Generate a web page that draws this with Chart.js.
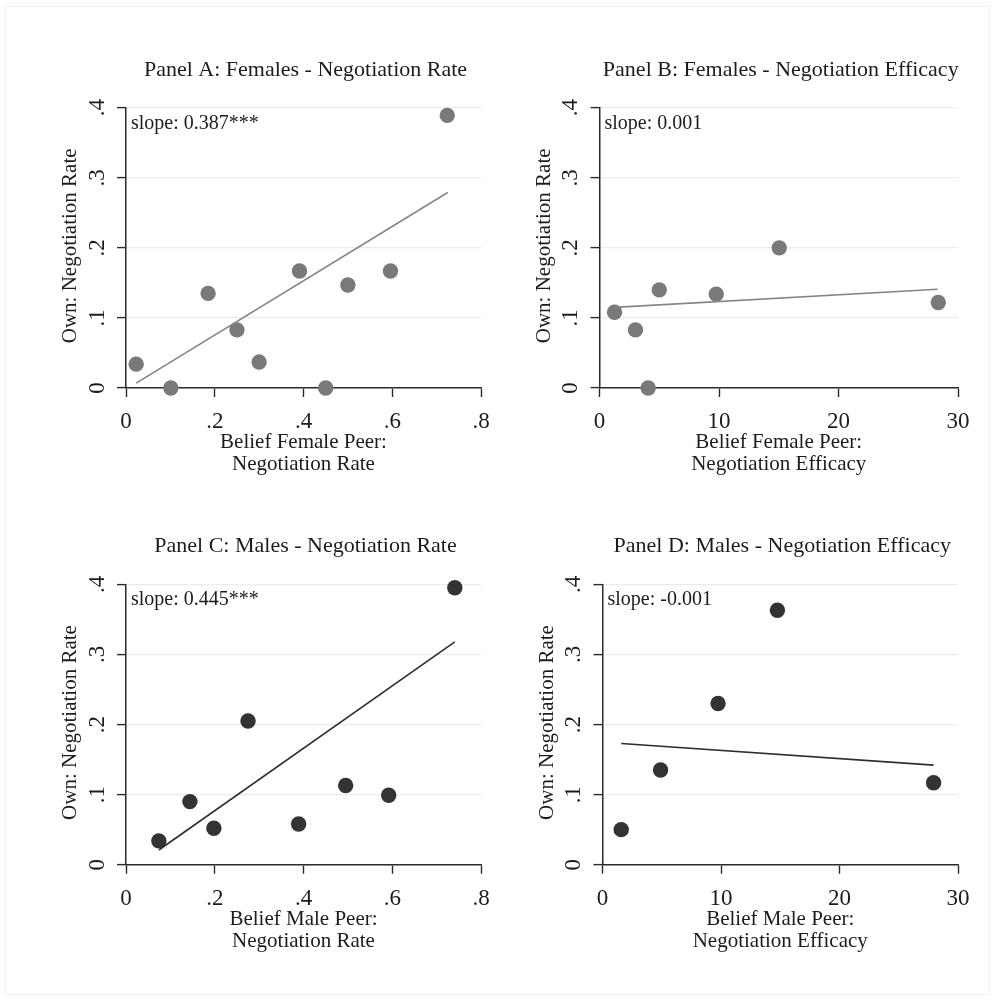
<!DOCTYPE html>
<html>
<head>
<meta charset="utf-8">
<title>Own vs belief negotiation rate</title>
<script src="https://cdn.jsdelivr.net/npm/chart.js@4.4.1/dist/chart.umd.min.js"></script>
<style>
  html, body { margin: 0; padding: 0; background: #fff; }
  #wrap { position: relative; width: 995px; height: 1000px; }
  #wrap canvas { position: absolute; left: 0; top: 0; }
  #frame { position: absolute; left: 5px; top: 6px; width: 983px; height: 987px; border: 1px solid #f1f1f1; }
</style>
</head>
<body>
<div id="wrap">
  <div id="frame"></div>
  <canvas id="panel-a" width="995" height="1000"></canvas>
  <canvas id="panel-b" width="995" height="1000"></canvas>
  <canvas id="panel-c" width="995" height="1000"></canvas>
  <canvas id="panel-d" width="995" height="1000"></canvas>
</div>
<script>
// ---- text ----
const panelTitles = [
    'Panel A: Females - Negotiation Rate',
    'Panel B: Females - Negotiation Efficacy',
    'Panel C: Males - Negotiation Rate',
    'Panel D: Males - Negotiation Efficacy'
];
const xTitles = [
    ['Belief Female Peer:', 'Negotiation Rate'],
    ['Belief Female Peer:', 'Negotiation Efficacy'],
    ['Belief Male Peer:', 'Negotiation Rate'],
    ['Belief Male Peer:', 'Negotiation Efficacy']
];
const yTitle = 'Own: Negotiation Rate';
const slopeLabels = ['slope: 0.387***', 'slope: 0.001', 'slope: 0.445***', 'slope: -0.001'];

// ---- ticks ----
const rateTicks = [0, 0.2, 0.4, 0.6, 0.8];
const rateTickLabels = ['0', '.2', '.4', '.6', '.8'];
const efficacyTicks = [0, 10, 20, 30];
const efficacyTickLabels = ['0', '10', '20', '30'];
const ownTicks = [0, 0.1, 0.2, 0.3, 0.4];
const ownTickLabels = ['0', '.1', '.2', '.3', '.4'];

// ---- Panel A: females, rate ----
const femaleRateX = [0.023, 0.101, 0.185, 0.250, 0.300, 0.391, 0.450, 0.500, 0.596, 0.724];
const femaleRateY = [0.034, 0.000, 0.135, 0.083, 0.037, 0.167, 0.000, 0.147, 0.167, 0.389];
const femaleRateFitX = [0.023, 0.725];
const femaleRateFitY = [0.007, 0.279];

// ---- Panel B: females, efficacy ----
const femaleEffX = [1.26, 3.01, 4.07, 5.00, 9.77, 15.04, 28.35];
const femaleEffY = [0.108, 0.083, 0.000, 0.140, 0.134, 0.200, 0.122];
const femaleEffFitX = [1.26, 28.30];
const femaleEffFitY = [0.115, 0.141];

// ---- Panel C: males, rate ----
const maleRateX = [0.074, 0.144, 0.198, 0.275, 0.389, 0.495, 0.592, 0.741];
const maleRateY = [0.034, 0.090, 0.052, 0.205, 0.058, 0.113, 0.099, 0.395];
const maleRateFitX = [0.074, 0.741];
const maleRateFitY = [0.021, 0.318];

// ---- Panel D: males, efficacy ----
const maleEffX = [1.58, 4.90, 9.75, 14.76, 27.94];
const maleEffY = [0.050, 0.135, 0.230, 0.363, 0.117];
const maleEffFitX = [1.58, 27.94];
const maleEffFitY = [0.173, 0.142];

const FONT = '"Liberation Serif", "Times New Roman", Times, serif';
const AXIS = '#2a2a2a';
const TICK = 9;
const PAGE_W = 995, PAGE_H = 1000;

function toPoints(xs, ys) {
    return xs.map((x, i) => ({ x: x, y: ys[i] }));
}

// draws titles, tick labels and the slope note (Stata-like rotated y labels)
const panelText = {
    id: 'panelText',
    afterDraw(chart, args, opts) {
        const ctx = chart.ctx;
        const area = chart.chartArea;
        const xs = chart.scales.x;
        const ys = chart.scales.y;
        const midX = (area.left + area.right) / 2;
        const midY = (area.top + area.bottom) / 2;

        ctx.save();
        ctx.fillStyle = '#1c1c1c';
        ctx.textAlign = 'center';
        ctx.textBaseline = 'alphabetic';

        ctx.font = '22px ' + FONT;
        ctx.fillText(opts.title, midX + 2, area.top - 32);

        ctx.font = '23px ' + FONT;
        opts.xTicks.forEach((v, i) => {
            ctx.fillText(opts.xLabels[i], xs.getPixelForValue(v), area.bottom + 40);
        });
        opts.yTicks.forEach((v, i) => {
            ctx.save();
            ctx.translate(area.left - 22.5, ys.getPixelForValue(v));
            ctx.rotate(-Math.PI / 2);
            ctx.fillText(opts.yLabels[i], 0, 0);
            ctx.restore();
        });

        ctx.font = '21px ' + FONT;
        opts.xTitle.forEach((line, i) => {
            ctx.fillText(line, midX, area.bottom + 60 + i * 22);
        });
        ctx.save();
        ctx.translate(area.left - 50, midY - 2);
        ctx.rotate(-Math.PI / 2);
        ctx.fillText(opts.yTitle, 0, 0);
        ctx.restore();

        ctx.font = '20px ' + FONT;
        ctx.textAlign = 'left';
        ctx.fillText(opts.slope, area.left + 5, area.top + 21);
        ctx.restore();
    }
};

function makePanel(canvasId, area, p) {
    return new Chart(document.getElementById(canvasId), {
        type: 'scatter',
        data: {
            datasets: [
                {
                    data: toPoints(p.fitX, p.fitY),
                    showLine: true,
                    borderColor: p.lineColor,
                    borderWidth: 1.6,
                    pointRadius: 0,
                    clip: false,
                    order: 0
                },
                {
                    data: toPoints(p.x, p.y),
                    backgroundColor: p.dotColor,
                    borderWidth: 0,
                    pointRadius: 7.7,
                    clip: false,
                    order: 1
                }
            ]
        },
        options: {
            responsive: false,
            animation: false,
            devicePixelRatio: 1,
            layout: {
                padding: {
                    left: area.l - TICK,
                    right: PAGE_W - area.r,
                    top: area.t,
                    bottom: PAGE_H - area.b - TICK
                }
            },
            plugins: {
                legend: { display: false },
                tooltip: { enabled: false },
                panelText: {
                    title: p.title,
                    xTitle: p.xTitle,
                    yTitle: yTitle,
                    slope: p.slope,
                    xTicks: p.xTicks,
                    xLabels: p.xLabels,
                    yTicks: ownTicks,
                    yLabels: ownTickLabels
                }
            },
            scales: {
                x: {
                    type: 'linear',
                    min: p.xTicks[0],
                    max: p.xTicks[p.xTicks.length - 1],
                    afterBuildTicks: s => { s.ticks = p.xTicks.map(v => ({ value: v })); },
                    afterFit: s => { s.height = TICK; },
                    ticks: { display: false },
                    grid: { drawOnChartArea: false, drawTicks: true, tickLength: TICK, tickColor: AXIS, tickWidth: 1.4 },
                    border: { display: true, color: AXIS, width: 1.5 }
                },
                y: {
                    type: 'linear',
                    min: 0,
                    max: 0.4,
                    afterBuildTicks: s => { s.ticks = ownTicks.map(v => ({ value: v })); },
                    afterFit: s => { s.width = TICK; },
                    ticks: { display: false },
                    grid: { color: '#ececec', lineWidth: 1.2, drawTicks: true, tickLength: TICK, tickColor: AXIS, tickWidth: 1.4 },
                    border: { display: true, color: AXIS, width: 1.5 }
                }
            }
        },
        plugins: [panelText]
    });
}

const femaleDot = '#797979', femaleLine = '#858585';
const maleDot = '#333333', maleLine = '#2e2e2e';

makePanel('panel-a', { l: 126, r: 481, t: 107.7, b: 388 }, {
    title: panelTitles[0], xTitle: xTitles[0], slope: slopeLabels[0],
    xTicks: rateTicks, xLabels: rateTickLabels,
    x: femaleRateX, y: femaleRateY, fitX: femaleRateFitX, fitY: femaleRateFitY,
    dotColor: femaleDot, lineColor: femaleLine
});
makePanel('panel-b', { l: 599.5, r: 958, t: 107.7, b: 388 }, {
    title: panelTitles[1], xTitle: xTitles[1], slope: slopeLabels[1],
    xTicks: efficacyTicks, xLabels: efficacyTickLabels,
    x: femaleEffX, y: femaleEffY, fitX: femaleEffFitX, fitY: femaleEffFitY,
    dotColor: femaleDot, lineColor: femaleLine
});
makePanel('panel-c', { l: 126, r: 481, t: 584.3, b: 864.7 }, {
    title: panelTitles[2], xTitle: xTitles[2], slope: slopeLabels[2],
    xTicks: rateTicks, xLabels: rateTickLabels,
    x: maleRateX, y: maleRateY, fitX: maleRateFitX, fitY: maleRateFitY,
    dotColor: maleDot, lineColor: maleLine
});
makePanel('panel-d', { l: 602.5, r: 958, t: 584.3, b: 864.7 }, {
    title: panelTitles[3], xTitle: xTitles[3], slope: slopeLabels[3],
    xTicks: efficacyTicks, xLabels: efficacyTickLabels,
    x: maleEffX, y: maleEffY, fitX: maleEffFitX, fitY: maleEffFitY,
    dotColor: maleDot, lineColor: maleLine
});
</script>
</body>
</html>
